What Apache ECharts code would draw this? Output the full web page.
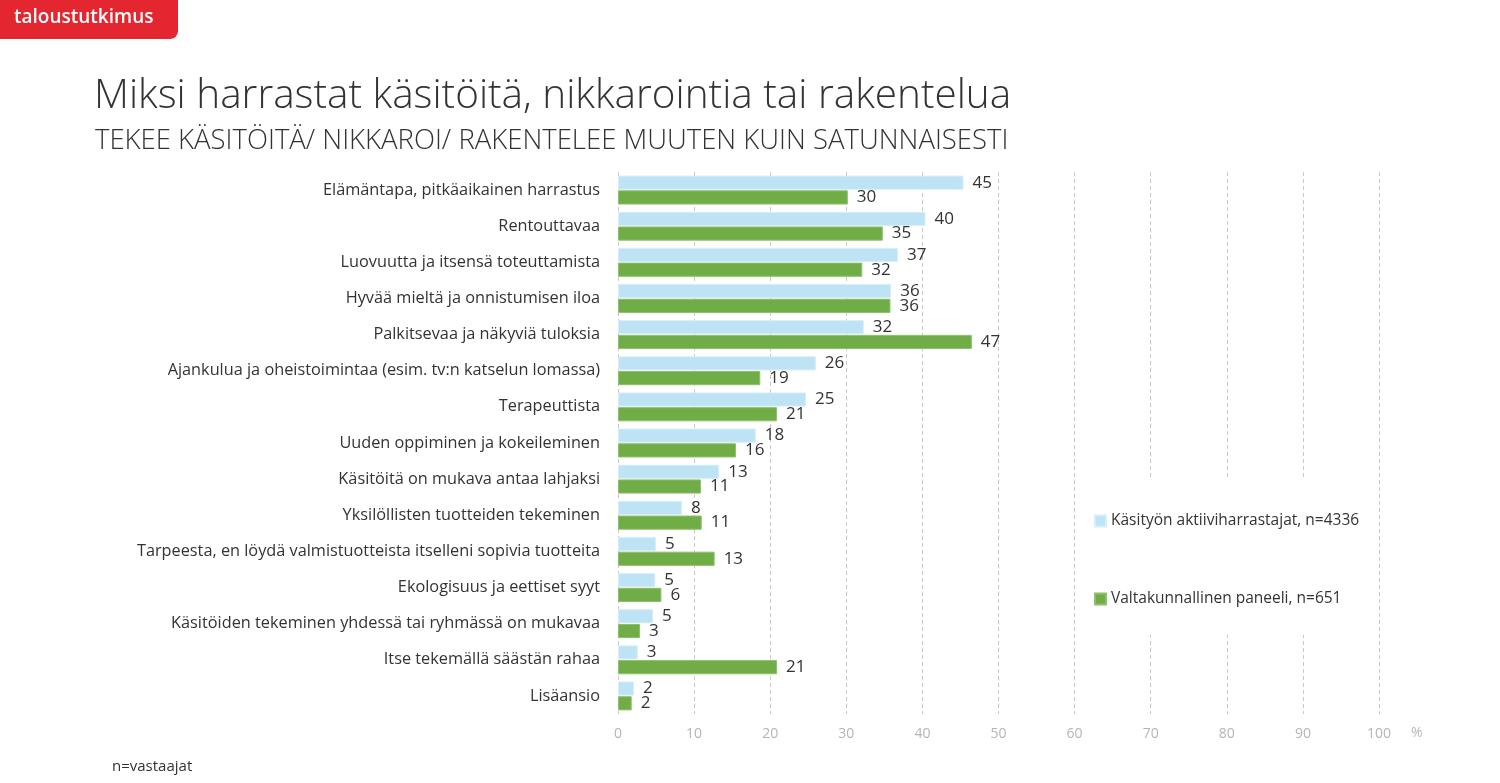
<!DOCTYPE html>
<html><head><meta charset="utf-8">
<script src="https://cdn.jsdelivr.net/npm/echarts@6/dist/echarts.min.js"></script>
<style>html,body{margin:0;padding:0;background:#fff}#c{width:1500px;height:783px}</style>
</head><body><div id="c"></div>
<script>
const categories = [
  "Elämäntapa, pitkäaikainen harrastus",
  "Rentouttavaa",
  "Luovuutta ja itsensä toteuttamista",
  "Hyvää mieltä ja onnistumisen iloa",
  "Palkitsevaa ja näkyviä tuloksia",
  "Ajankulua ja oheistoimintaa (esim. tv:n katselun lomassa)",
  "Terapeuttista",
  "Uuden oppiminen ja kokeileminen",
  "Käsitöitä on mukava antaa lahjaksi",
  "Yksilöllisten tuotteiden tekeminen",
  "Tarpeesta, en löydä valmistuotteista itselleni sopivia tuotteita",
  "Ekologisuus ja eettiset syyt",
  "Käsitöiden tekeminen yhdessä tai ryhmässä on mukavaa",
  "Itse tekemällä säästän rahaa",
  "Lisäansio"
];
const seriesNames = ["Käsityön aktiiviharrastajat, n=4336", "Valtakunnallinen paneeli, n=651"];
const aktiivi = [45.4, 40.4, 36.8, 35.9, 32.3, 26.0, 24.7, 18.1, 13.3, 8.4, 5.0, 4.9, 4.6, 2.6, 2.1];
const paneeli = [30.2, 34.8, 32.1, 35.8, 46.5, 18.7, 20.9, 15.5, 10.9, 11.0, 12.7, 5.7, 2.9, 20.9, 1.8];
const xTicks = [0, 10, 20, 30, 40, 50, 60, 70, 80, 90, 100];

const chart = echarts.init(document.getElementById('c'), null, {renderer: 'canvas'});
const font = "'Open Sans', 'Noto Sans', sans-serif";
const lbl = {show: true, position: 'right', distance: 9, color: '#333', fontSize: 17, fontFamily: font,
  formatter: p => Math.round(p.value)};
chart.setOption({
  backgroundColor: '#fff',
  animation: false,
  textStyle: {fontFamily: font},
  title: [
    {text: 'Miksi harrastat käsitöitä, nikkarointia tai rakentelua', left: 89, top: 71,
     textStyle: {fontSize: 40.5, fontWeight: 300, color: '#333', fontFamily: font}},
    {text: 'TEKEE KÄSITÖITÄ/ NIKKAROI/ RAKENTELEE MUUTEN KUIN SATUNNAISESTI', left: 90, top: 122,
     textStyle: {fontSize: 27.5, fontWeight: 300, color: '#333', fontFamily: font}}
  ],
  legend: {
    orient: 'vertical', left: 1082, top: 478, itemGap: 62, itemWidth: 11, itemHeight: 11,
    padding: [35, 10, 28, 12], backgroundColor: '#fff',
    icon: 'rect', textStyle: {fontSize: 15.5, color: '#333', fontFamily: font},
    data: seriesNames
  },
  grid: {left: 618, right: 121, top: 172, bottom: 69, containLabel: false},
  xAxis: {
    type: 'value', min: xTicks[0], max: xTicks[xTicks.length - 1], interval: 10,
    axisLine: {show: false}, axisTick: {show: false},
    axisLabel: {color: '#b5b5b5', fontSize: 14, margin: 13},
    splitLine: {show: true, lineStyle: {color: '#c8c8c8', type: [4, 3], width: 1}}
  },
  yAxis: {
    type: 'category', inverse: true, data: categories,
    axisLine: {show: false}, axisTick: {show: false},
    axisLabel: {color: '#333', fontSize: 16.3, margin: 18}
  },
  series: [
    {name: seriesNames[0], type: 'bar', data: aktiivi, barGap: '4%', barCategoryGap: '20%',
     itemStyle: {color: '#BDE3F5', borderColor: '#d6eefa', borderWidth: 1}, label: lbl, z: 3},
    {name: seriesNames[1], type: 'bar', data: paneeli,
     itemStyle: {color: '#70AD47', borderColor: '#8cc06a', borderWidth: 1}, label: lbl, z: 3}
  ],
  graphic: [
    {type: 'rect', left: 0, top: 0, shape: {width: 178, height: 39, r: [0, 0, 8, 0]}, style: {fill: '#E3262F'}},
    {type: 'text', left: 14, top: 8, style: {text: 'taloustutkimus', fill: '#fff', fontSize: 19, fontWeight: 600, fontFamily: font}},
    {type: 'text', left: 1411, top: 726, style: {text: '%', fill: '#b5b5b5', fontSize: 14, fontFamily: font}},
    {type: 'text', left: 112, top: 759, style: {text: 'n=vastaajat', fill: '#333', fontSize: 15, fontFamily: font}}
  ]
});
</script></body></html>
